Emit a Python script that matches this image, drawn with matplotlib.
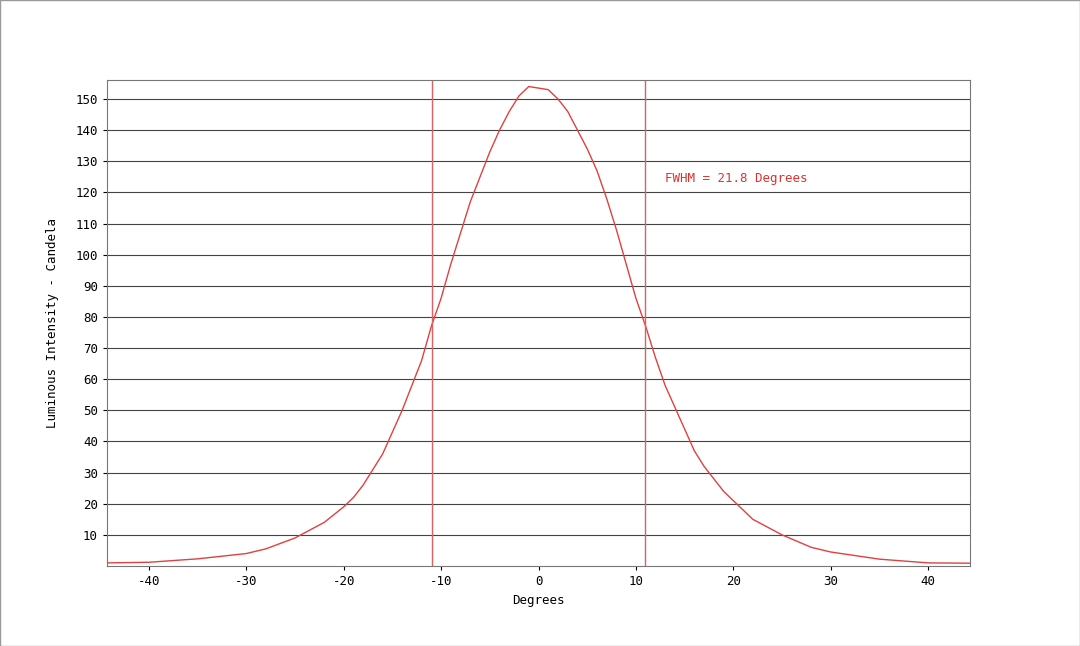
import matplotlib
matplotlib.use("Agg")
import matplotlib.pyplot as plt

degrees = [-44.3,-40,-35,-30,-28,-25,-22,-20,-19,-18,-17,-16,-15,-14,-13,-12,-11,-10,-9,-8,-7,-6,-5,-4,-3,-2,-1,0,1,2,3,4,5,6,7,8,9,10,11,12,13,14,15,16,17,18,19,20,22,25,28,30,35,40,44.3]
intensity = [1,1.2,2.3,4,5.5,9,14,19,22,26,31,36,43,50,58,66,77,86,97,107,117,125,133,140,146,151,154,153.5,153,150,146,140,134,127,118,108,97,86,77,67,58,51,44,37,32,28,24,21,15,10,6,4.5,2.2,1,0.9]
fwhm_lines = [-10.9, 10.9]
xticks = [-40,-30,-20,-10,0,10,20,30,40]
yticks = list(range(10,160,10))

plt.rcParams['font.family'] = 'DejaVu Sans Mono'
plt.rcParams['axes.unicode_minus'] = False
fig = plt.figure(figsize=(10.8,6.46), dpi=100)
ax = fig.add_axes([107/1080, 1-566/646, 863/1080, 486/646])
ax.plot(degrees, intensity, color='#e04040', lw=1)
for v in fwhm_lines:
    ax.axvline(v, color='#e06060', lw=1)
ax.set_xlim(-44.3, 44.3)
ax.set_ylim(0, 156.1)
ax.set_xticks(xticks)
ax.set_yticks(yticks)
ax.yaxis.grid(True, color='#444444', lw=0.8)
ax.set_axisbelow(True)
ax.tick_params(labelsize=9, length=3)
for s in ax.spines.values():
    s.set_color('#777777')
ax.set_xlabel('Degrees', fontsize=9)
ax.set_ylabel('Luminous Intensity - Candela', fontsize=9, labelpad=12)
ax.text(13, 124.5, 'FWHM = 21.8 Degrees', color='#e03030', fontsize=9, va='center')
fig.patches.append(plt.Rectangle((0,0),1,1,transform=fig.transFigure,fill=False,ec='#999999',lw=1))
fig.savefig('out.png', dpi=100)
